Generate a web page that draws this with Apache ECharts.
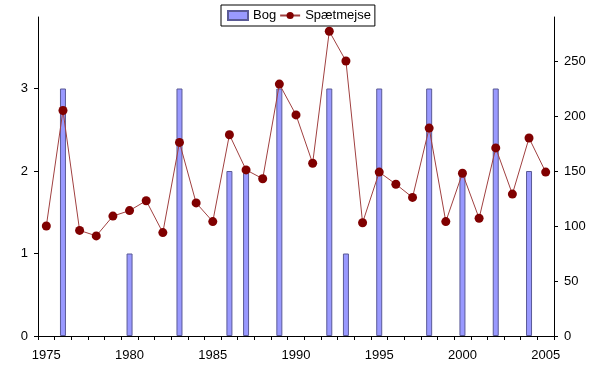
<!DOCTYPE html>
<html>
<head>
<meta charset="utf-8">
<script src="https://cdn.jsdelivr.net/npm/echarts@6/dist/echarts.min.js"></script>
<style>
html,body{margin:0;padding:0;background:#fff;}
#c{width:600px;height:374px;}
</style>
</head>
<body>
<div id="c"></div>
<script>
var years = [];
for (var y = 1975; y <= 2005; y++) years.push(String(y));
var bog = [null,3,null,null,null,1,null,null,3,null,null,2,2,null,3,null,null,3,1,null,3,null,null,3,null,2,null,3,null,2,null];
var spaetmejse = [100,205,96,91,109,114,123,94,176,121,104,183,151,143,229,201,157,277,250,103,149,138,126,189,104,148,107,171,129,180,149];
var leftTicks = [0,1,2,3];
var rightTicks = [0,50,100,150,200,250];

var font = "'Liberation Sans', Arial, sans-serif";
var chart = echarts.init(document.getElementById('c'), null, {renderer:'canvas'});
chart.setOption({
  animation: false,
  textStyle: {fontFamily: font},
  legend: {
    top: 5, left: 221,
    borderColor: '#000', borderWidth: 1, borderRadius: 0,
    padding: [4, 4, 4, 6],
    itemGap: 3, itemWidth: 20, itemHeight: 9,
    textStyle: {fontFamily: font, fontSize: 13, color: '#000'},
    data: [
      {name: 'Bog', icon: 'rect'},
      {name: 'Spætmejse'}
    ]
  },
  grid: {left: 38, right: 46, top: 17, bottom: 38, containLabel: false},
  xAxis: {
    type: 'category',
    data: years,
    boundaryGap: true,
    axisLine: {lineStyle: {color: '#000', width: 1}},
    axisTick: {show: true, interval: 0, length: 4, lineStyle: {color: '#000'}},
    axisLabel: {interval: 4, color: '#000', fontSize: 13, fontFamily: font, margin: 13},
    splitLine: {show: false}
  },
  yAxis: [
    {
      type: 'value', min: 0, max: 3.8667,
      axisLine: {show: true, lineStyle: {color: '#000'}},
      axisTick: {show: true, length: 4, lineStyle: {color: '#000'}, customValues: leftTicks},
      axisLabel: {color: '#000', fontSize: 13, fontFamily: font, margin: 10, customValues: leftTicks},
      splitLine: {show: false}
    },
    {
      type: 'value', min: 0, max: 290,
      position: 'right',
      axisLine: {show: true, lineStyle: {color: '#000'}},
      axisTick: {show: true, length: 4, lineStyle: {color: '#000'}, customValues: rightTicks},
      axisLabel: {color: '#000', fontSize: 13, fontFamily: font, margin: 10, customValues: rightTicks},
      splitLine: {show: false}
    }
  ],
  series: [
    {
      name: 'Bog', type: 'bar', yAxisIndex: 0, data: bog,
      barWidth: 6,
      itemStyle: {color: '#9999FF', borderColor: '#5a5a96', borderWidth: 1}
    },
    {
      name: 'Spætmejse', type: 'line', yAxisIndex: 1, data: spaetmejse,
      symbol: 'circle', symbolSize: 9,
      lineStyle: {color: '#a04040', width: 1},
      itemStyle: {color: '#800000'},
      z: 3
    }
  ]
});
</script>
</body>
</html>
